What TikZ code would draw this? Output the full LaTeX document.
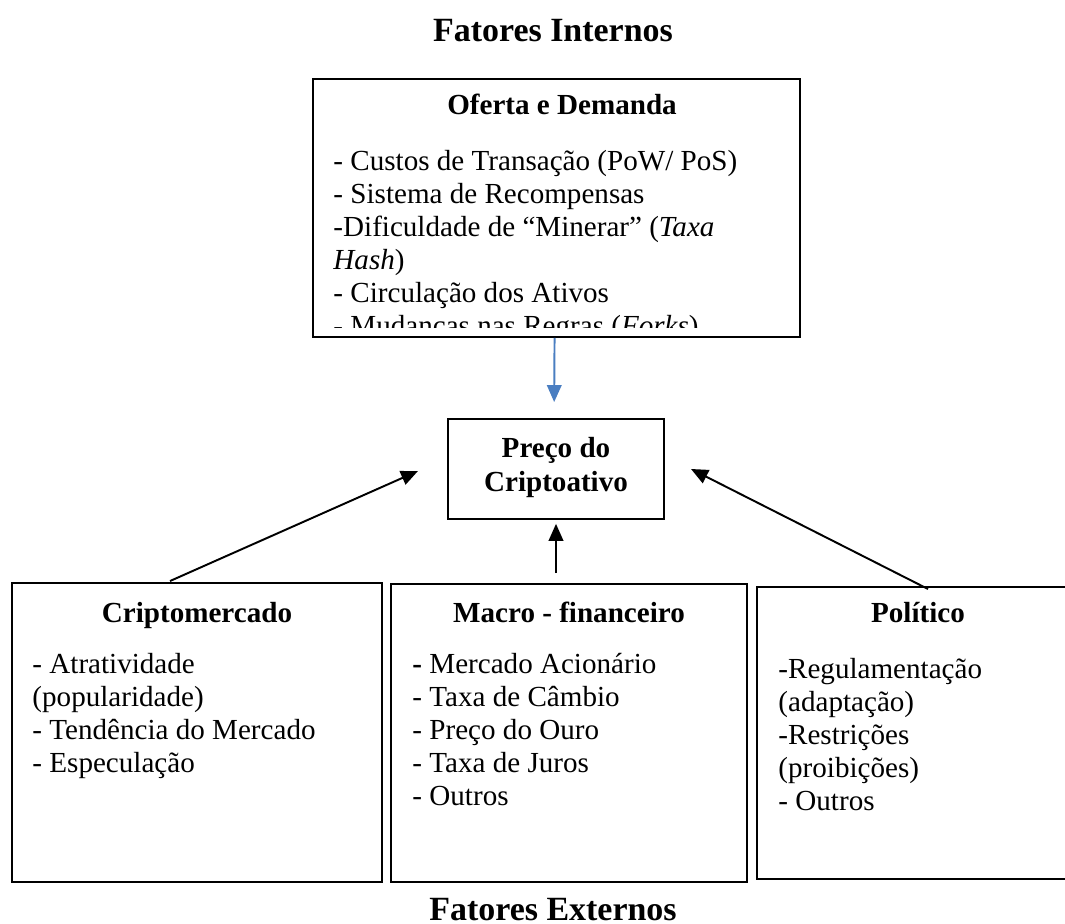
\documentclass[tikz,border=0pt]{standalone}
\usepackage{fontspec}
\setmainfont{Liberation Serif}
\usetikzlibrary{arrows.meta,fit,calc}
\definecolor{arrowblue}{RGB}{74,126,193}
\begin{document}
\begin{tikzpicture}[x=0.4125pt,y=-0.4125pt,
  boxst/.style={draw, line width=0.8pt, inner sep=0pt},
  body/.style={font=\fontsize{12}{13.6}\selectfont, align=left, inner sep=0pt, anchor=north west},
  boxtitle/.style={font=\fontsize{12}{13.6}\selectfont\bfseries, inner sep=0pt, anchor=base},
  bigtitle/.style={font=\fontsize{14}{16}\selectfont\bfseries, inner sep=0pt, anchor=base},
  arr/.style={line width=0.8pt, -{Triangle[length=7pt,width=6pt]}},
]
\clip (0,0) rectangle (1065,924);
\fill[white] (0,0) rectangle (1065,924);

% titles
\node[bigtitle] (fint) at (553,42) {Fatores Internos};
\node[bigtitle] (fext) at (553,920) {Fatores Externos};

% top box
\node[boxst, fit={(313,79) (800,337)}] (top) {};
\node[boxtitle] (toptitle) at (562,115) {Oferta e Demanda};
\begin{scope}
  \clip (313,79) rectangle (800,328);
  \node[body] (topitems) at (333,147) {\strut- Custos de Transação (PoW/ PoS)\\- Sistema de Recompensas\\-Dificuldade de “Minerar” (\textit{Taxa}\\\textit{Hash})\\- Circulação dos Ativos\\- Mudanças nas Regras (\textit{Forks})};
\end{scope}

% price box
\node[boxst, fit={(448,419) (664,519)}] (price) {};
\node[font=\fontsize{12}{13.8}\selectfont\bfseries, align=center, inner sep=0pt, anchor=north] (pricetext) at (556,434) {\strut Preço do\\Criptoativo};

% bottom boxes
\node[boxst, fit={(12,583) (382,882)}] (cripto) {};
\node[boxtitle] (criptotitle) at (197,622) {Criptomercado};
\node[body] (criptoitems) at (32,650) {\strut- Atratividade\\(popularidade)\\- Tendência do Mercado\\- Especulação};

\node[boxst, fit={(391,584) (747,882)}] (macro) {};
\node[boxtitle] (macrotitle) at (569,623) {Macro - financeiro};
\node[body] (macroitems) at (412,650) {\strut\textbf{-} Mercado Acionário\\- Taxa de Câmbio\\- Preço do Ouro\\- Taxa de Juros\\- Outros};

\node[boxst, fit={(757,587) (1079,879)}] (politico) {};
\node[boxtitle] (polititle) at (918,623) {Político};
\node[body] (poliitems) at (778,655) {\strut-Regulamentação\\(adaptação)\\-Restrições\\(proibições)\\- Outros};

% connectors
\draw[arr, arrowblue, shorten >=6.6pt] ([xshift=-0.8pt]top.south) -- ([xshift=-0.8pt]price.north);
\draw[arr, shorten <=4.1pt, shorten >=1.6pt] (macro.north -| price.south) -- (price.south);
\coordinate (ltip) at (418,471);
\coordinate (rtip) at (691,469);
\draw[arr] ($(cripto.north west)+(159,-1)$) -- (ltip);
\draw[arr] ($(politico.north west)+(172,3)$) -- (rtip);
\end{tikzpicture}
\end{document}
